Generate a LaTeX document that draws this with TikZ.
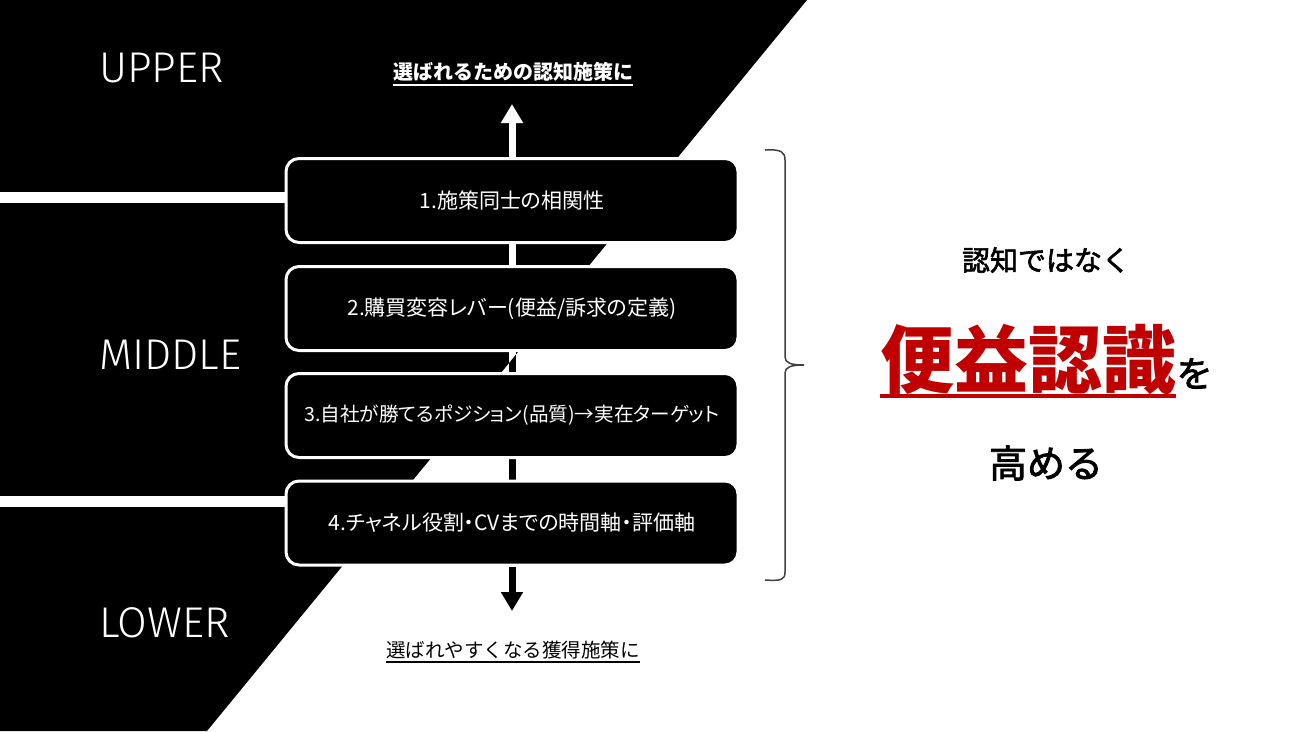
\documentclass[tikz,border=0pt]{standalone}
\usepackage{fontspec}
\setmainfont{Noto Sans CJK JP}
\newfontfamily\boxfont{Noto Sans CJK JP}[RawFeature=+palt]
\newfontfamily\semifont{Noto Sans CJK JP}[FakeBold=2.2]
\IfFontExistsTF{Fira Sans Light}{\newfontfamily\lightfont{Fira Sans Light}}{\newfontfamily\lightfont{Open Sans}}
\usetikzlibrary{arrows.meta}
\definecolor{redk}{HTML}{C00000}
\definecolor{bracec}{HTML}{404040}
\tikzset{
  stepbox/.style={draw=white, line width=3pt, fill=black, rounded corners=13pt,
    minimum width=452pt, minimum height=84pt, inner sep=0pt, text=white,
    font=\boxfont\fontsize{21}{21}\selectfont},
  lvl/.style={anchor=west, inner sep=0pt, text=white, font=\lightfont\fontsize{43}{43}\selectfont},
  wline/.style={white, line width=7pt},
  bline/.style={black, line width=7pt},
  band/.style={white, line width=11pt},
  tip/.style={-{Triangle[width=21pt,length=19pt]}},
  jp/.style={inner sep=0pt},
}
\begin{document}
\begin{tikzpicture}[x=1pt,y=-1pt]
\useasboundingbox (0,0) rectangle (1300,731);
\fill[white] (0,0) rectangle (1300,731);
\fill[black] (0,0) -- (807,0) -- (207,731) -- (0,731) -- cycle;

% boxes (positions)
\path (512,200.5) coordinate (c1) (512,308.5) coordinate (c2) (512,415.5) coordinate (c3) (512,523) coordinate (c4);
\node[stepbox, draw=none, fill=none] (b1) at (c1) {};
\node[stepbox, draw=none, fill=none] (b2) at (c2) {};
\node[stepbox, draw=none, fill=none] (b3) at (c3) {};
\node[stepbox, draw=none, fill=none] (b4) at (c4) {};

% bands
\coordinate (l1) at (0,197.5);
\coordinate (l2) at (0,501);
\draw[band] (l1) -- (l1 -| b1.west);
\draw[band] (l2) -- (l2 -| b4.west);

% arrows
\coordinate (upt) at (512,104);
\coordinate (dnt) at (512,611);
\draw[wline, tip, white] (b1.north) -- (upt);
\draw[bline, tip] (b4.south) -- (dnt);
\draw[wline] (b1.south) -- (b2.north);
\draw[wline] (b2.south) -- (b3.north);
\draw[wline] (b3.south) -- (b4.north);
\begin{scope}
\clip (807,0) -- (1300,0) -- (1300,731) -- (207,731) -- cycle;
\draw[bline] (b1.south) -- (b2.north);
\draw[bline] (b2.south) -- (b3.north);
\draw[bline] (b3.south) -- (b4.north);
\end{scope}

% visible boxes
\node[stepbox] (s1) at (c1) {1.施策同士の相関性};
\node[stepbox] (s2) at (c2) {2.購買変容レバー(便益/訴求の定義)};
\node[stepbox, font=\boxfont\fontsize{19.6}{19.6}\selectfont] (s3) at (c3) {3.自社が勝てるポジション(品質)→実在ターゲット};
\node[stepbox] (s4) at (c4) {4.チャネル役割・CVまでの時間軸・評価軸};

% level labels
\node[lvl] (up) at (99,68) {UPPER};
\node[lvl] (mid) at (99,355) {MIDDLE};
\node[lvl] (low) at (99,623) {LOWER};

% top / bottom captions
\node[jp, text=white, font=\bfseries\fontsize{20}{20}\selectfont] (tt) at (513,72) {選ばれるための認知施策に};
\draw[white, line width=2pt] ([yshift=-3pt]tt.south west) -- ([yshift=-3pt]tt.south east);
\node[jp, text=black, font=\fontsize{19.5}{19.5}\selectfont] (bt) at (513,650) {選ばれやすくなる獲得施策に};
\draw[black, line width=1.6pt] ([yshift=-3pt]bt.south west) -- ([yshift=-3pt]bt.south east);

% brace
\draw[bracec, line width=1.5pt] (765,150) .. controls (781,149) and (785,152) .. (785,160)
  -- (785,357) .. controls (785,363) and (791,365) .. (804,365)
  .. controls (791,365) and (785,367) .. (785,373)
  -- (785,572) .. controls (785,580) and (781,581) .. (765,580);

% right texts
\node[jp, font=\semifont\fontsize{28}{28}\selectfont] (n1) at (1046,260) {認知ではなく};
\node[jp, anchor=base west, text=redk, font=\bfseries\fontsize{74}{74}\selectfont] (rk) at (880,387) {便益認識};
\node[jp, anchor=base west, font=\semifont\fontsize{36}{36}\selectfont] (wo) at (rk.base east) {を};
\draw[redk, line width=4pt] ([yshift=-9pt]rk.base west) -- ([yshift=-9pt]rk.base east);
\node[jp, font=\semifont\fontsize{38}{38}\selectfont] (n3) at (1046,463) {高める};
\end{tikzpicture}
\end{document}
